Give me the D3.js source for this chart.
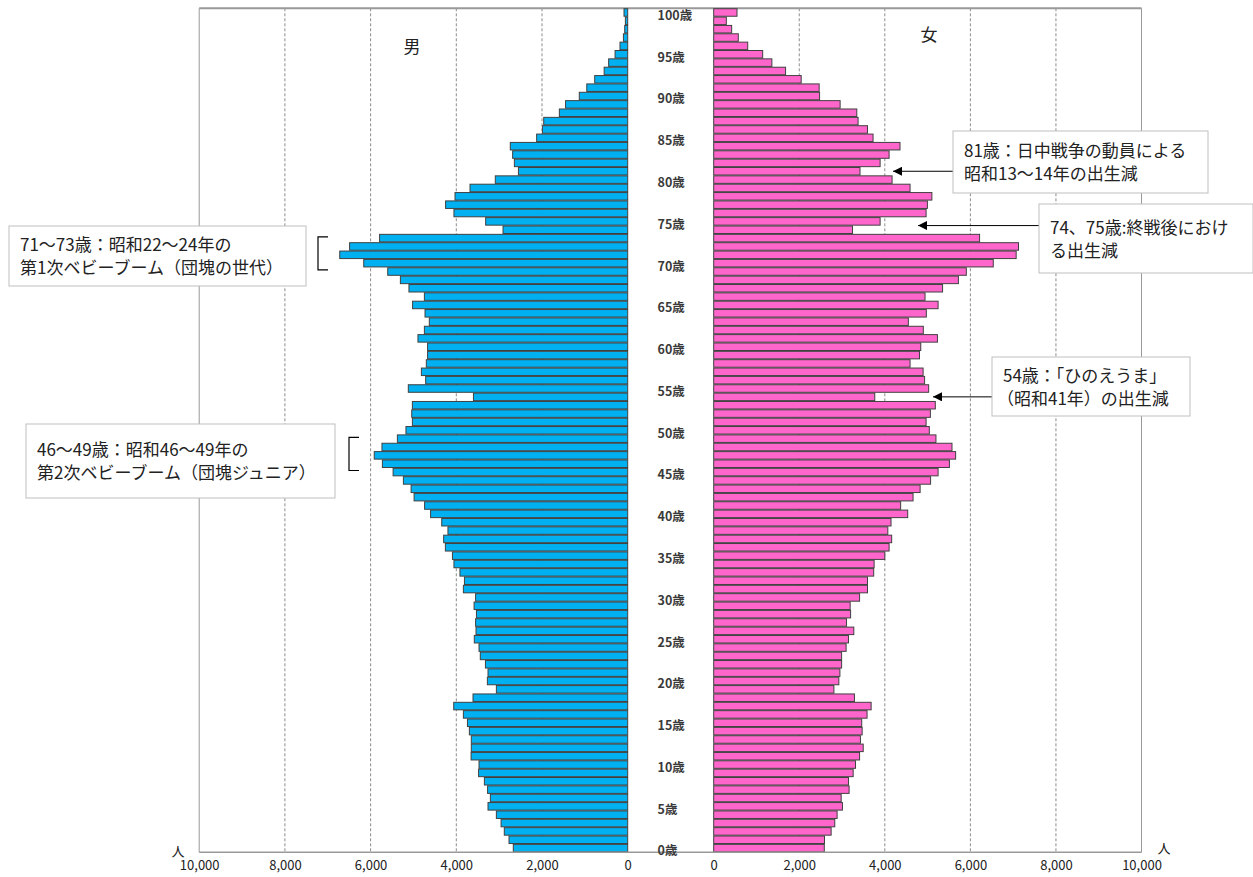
<!DOCTYPE html>
<html>
<head>
<meta charset="utf-8">
<script src="https://cdn.jsdelivr.net/npm/d3@7"></script>
<style>
  body { margin: 0; background: #fff; }
  svg { display: block; font-family: "Noto Sans CJK JP", "Noto Sans", sans-serif; }
</style>
</head>
<body>
<div id="chart"></div>
<script>
// ages 0..100
const ages = d3.range(0, 101);

// 男 (age 0 -> 100)
const maleValues = [
  2670, 2770, 2880, 2955, 3065, 3260, 3205, 3270, 3345, 3480,
  3470, 3655, 3650, 3650, 3695, 3740, 3835, 4060, 3610, 3065,
  3275, 3260, 3320, 3440, 3470, 3580, 3540, 3550, 3530, 3585,
  3550, 3835, 3810, 3915, 4055, 4090, 4255, 4295, 4195, 4340,
  4600, 4740, 4985, 5055, 5235, 5475, 5725, 5915, 5735, 5375,
  5175, 5025, 5040, 5025, 3600, 5120, 4715, 4815, 4700, 4670,
  4670, 4895, 4745, 4630, 4730, 5020, 4745, 5105, 5305, 5600,
  6160, 6720, 6490, 5790, 2910, 3315, 4055, 4250, 4030, 3680,
  3090, 2550, 2645, 2685, 2740, 2125, 1990, 1960, 1595, 1450,
  1130, 955, 770, 550, 445, 295, 180, 100, 70, 54,
  86
];

// 女 (age 0 -> 100)
const femaleValues = [
  2585, 2590, 2745, 2830, 2885, 3010, 2980, 3165, 3150, 3260,
  3315, 3410, 3495, 3430, 3470, 3460, 3585, 3680, 3290, 2810,
  2925, 2950, 2990, 2990, 3095, 3150, 3275, 3105, 3200, 3190,
  3410, 3595, 3595, 3740, 3750, 4000, 4100, 4160, 4070, 4145,
  4535, 4370, 4660, 4825, 5070, 5245, 5510, 5655, 5570, 5195,
  5040, 4965, 5065, 5180, 3765, 5025, 4930, 4895, 4590, 4810,
  4840, 5230, 4900, 4550, 4970, 5245, 4940, 5350, 5720, 5905,
  6535, 7070, 7125, 6215, 3245, 3890, 4965, 4995, 5100, 4590,
  4170, 3420, 3890, 4100, 4355, 3725, 3595, 3375, 3345, 2955,
  2475, 2465, 2045, 1680, 1360, 1145, 795, 575, 420, 295,
  545
];

const tickValues = [0, 2000, 4000, 6000, 8000, 10000];
const ageLabels = [0, 5, 10, 15, 20, 25, 30, 35, 40, 45, 50, 55, 60, 65, 70, 75, 80, 85, 90, 95, 100];

const notes = [
  { lines: ["71〜73歳：昭和22〜24年の", "第1次ベビーブーム（団塊の世代）"], box: [9, 226, 306, 286], bracket: [70, 73], bx: 318 },
  { lines: ["46〜49歳：昭和46〜49年の", "第2次ベビーブーム（団塊ジュニア）"], box: [26, 424, 335, 498], bracket: [46, 49], bx: 349 },
  { lines: ["81歳：日中戦争の動員による", "昭和13〜14年の出生減"], box: [953, 131, 1208, 193], arrow: [81], tip: 893 },
  { lines: ["74、75歳:終戦後におけ", "る出生減"], box: [1039, 204, 1253, 273], arrow: [74, 75], tip: 918 },
  { lines: ["54歳：「ひのえうま」", "（昭和41年）の出生減"], box: [992, 357, 1190, 416], arrow: [54], tip: 933 }
];

const width = 1253, height = 877;
const plotTop = 8.3, plotBottom = 852.3;

const svg = d3.select("#chart").append("svg")
  .attr("width", width)
  .attr("height", height);

const y = d3.scaleBand()
  .domain(ages.slice().reverse())
  .range([plotTop, plotBottom])
  .paddingInner(0.1)
  .paddingOuter(0.05);

const xMale = d3.scaleLinear().domain([0, 10000]).range([627.7, 199.2]);
const xFemale = d3.scaleLinear().domain([0, 10000]).range([713.7, 1141.5]);

// gridlines
function drawGrid(x) {
  svg.append("g")
    .selectAll("line")
    .data(tickValues.filter(d => d > 0 && d < 10000))
    .join("line")
    .attr("x1", d => x(d)).attr("x2", d => x(d))
    .attr("y1", plotTop).attr("y2", plotBottom)
    .attr("stroke", "#8c8c8c")
    .attr("stroke-width", 1)
    .attr("stroke-dasharray", "3,2");
}
drawGrid(xMale);
drawGrid(xFemale);

// frame
svg.append("line")
  .attr("x1", xMale(10000)).attr("x2", xFemale(10000))
  .attr("y1", plotTop).attr("y2", plotTop)
  .attr("stroke", "#999").attr("stroke-width", 2);
[xMale(10000), xFemale(10000)].forEach(x => {
  svg.append("line")
    .attr("x1", x).attr("x2", x)
    .attr("y1", plotTop).attr("y2", plotBottom)
    .attr("stroke", "#999").attr("stroke-width", 1);
});

// bars
function drawBars(values, x, color) {
  svg.append("g")
    .selectAll("rect")
    .data(ages)
    .join("rect")
    .attr("x", d => Math.min(x(0), x(values[d])))
    .attr("y", d => y(d))
    .attr("width", d => Math.abs(x(values[d]) - x(0)))
    .attr("height", y.bandwidth())
    .attr("fill", color)
    .attr("stroke", "#404040")
    .attr("stroke-width", 1);
}
drawBars(maleValues, xMale, "#00b0f0");
drawBars(femaleValues, xFemale, "#ff66cc");

// bottom axis line
svg.append("line")
  .attr("x1", xMale(10000)).attr("x2", xFemale(10000))
  .attr("y1", plotBottom).attr("y2", plotBottom)
  .attr("stroke", "#999").attr("stroke-width", 1.5);

// tick labels
function drawAxis(x) {
  const g = svg.append("g")
    .attr("transform", `translate(0,${plotBottom + 5})`)
    .call(d3.axisBottom(x).tickValues(tickValues).tickSize(0).tickFormat(d3.format(",")));
  g.select(".domain").remove();
  g.selectAll("text")
    .attr("font-size", 13)
    .attr("font-family", "'Noto Sans CJK JP', sans-serif")
    .attr("fill", "#222");
}
drawAxis(xMale);
drawAxis(xFemale);

// age labels
svg.append("g")
  .selectAll("text")
  .data(ageLabels)
  .join("text")
  .attr("x", 657.5)
  .attr("y", d => y(d) + y.bandwidth() / 2 + 3)
  .attr("dy", "0.35em")
  .attr("font-size", 12.5)
  .attr("font-weight", "bold")
  .attr("fill", "#3a3a3a")
  .text(d => d + "歳");

// 人 unit labels
svg.append("text").attr("x", 178).attr("y", 851).attr("dy", "0.35em")
  .attr("text-anchor", "middle").attr("font-size", 13).attr("fill", "#222").text("人");
svg.append("text").attr("x", 1164).attr("y", 848).attr("dy", "0.35em")
  .attr("text-anchor", "middle").attr("font-size", 13).attr("fill", "#222").text("人");

// 男 / 女
svg.append("text").attr("x", 412).attr("y", 47).attr("dy", "0.35em")
  .attr("text-anchor", "middle").attr("font-size", 17).attr("fill", "#222").text("男");
svg.append("text").attr("x", 929).attr("y", 35).attr("dy", "0.35em")
  .attr("text-anchor", "middle").attr("font-size", 17).attr("fill", "#222").text("女");

// annotations
svg.append("defs").append("marker")
  .attr("id", "arrow")
  .attr("viewBox", "0 0 10 10")
  .attr("refX", 10).attr("refY", 5)
  .attr("markerWidth", 9).attr("markerHeight", 9)
  .attr("markerUnits", "userSpaceOnUse")
  .attr("orient", "auto")
  .append("path")
  .attr("d", "M0,0L10,5L0,10z")
  .attr("fill", "#000");

notes.forEach(n => {
  const [x0, y0, x1, y1] = n.box;
  if (n.arrow) {
    const ay = d3.mean(n.arrow, a => y(a) + y.bandwidth() / 2);
    svg.append("line")
      .attr("x1", x0).attr("x2", n.tip)
      .attr("y1", ay).attr("y2", ay)
      .attr("stroke", "#000").attr("stroke-width", 1)
      .attr("marker-end", "url(#arrow)");
  }
  if (n.bracket) {
    const by0 = y(n.bracket[1]) + 2.5, by1 = y(n.bracket[0]) + y.bandwidth() + 3;
    svg.append("path")
      .attr("d", `M${n.bx + 10},${by0}H${n.bx}V${by1}H${n.bx + 10}`)
      .attr("fill", "none")
      .attr("stroke", "#000")
      .attr("stroke-width", 1.2);
  }
  svg.append("rect")
    .attr("x", x0).attr("y", y0)
    .attr("width", x1 - x0).attr("height", y1 - y0)
    .attr("fill", "#fff")
    .attr("stroke", "#bfbfbf")
    .attr("stroke-width", 1);
  const cy = (y0 + y1) / 2 + 1;
  n.lines.forEach((t, i) => {
    svg.append("text")
      .attr("x", x0 + 11)
      .attr("y", cy + (i - 0.5) * 23)
      .attr("dx", t.startsWith("（") ? -6 : 0)
      .attr("dy", "0.35em")
      .attr("font-size", 17)
      .attr("fill", "#222")
      .text(t);
  });
});
</script>
</body>
</html>
